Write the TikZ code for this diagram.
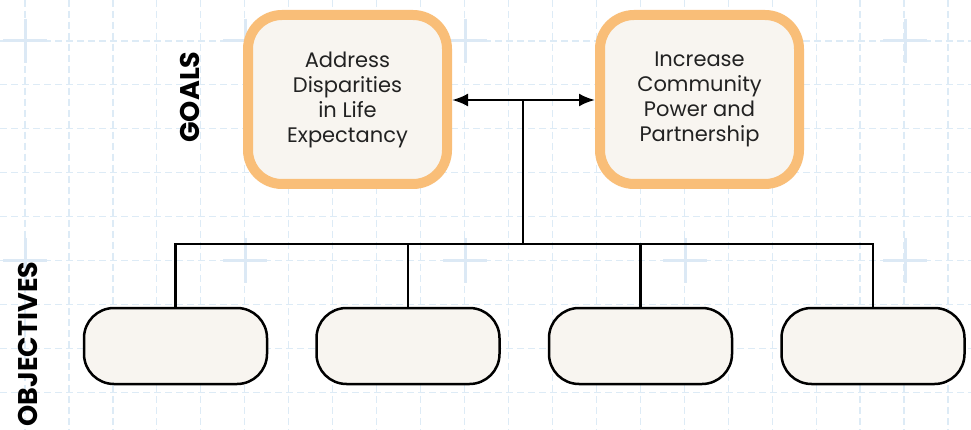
\documentclass[tikz,border=0pt]{standalone}
\usepackage{fontspec}
\setmainfont{Poppins}
\usepackage{xcolor}
\usepackage{tikz}
\usetikzlibrary{positioning, arrows.meta, calc}

\definecolor{gridblue}{HTML}{DDEBF6}
\definecolor{crossblue}{HTML}{DCE9F5}
\definecolor{goalorange}{HTML}{F9BE78}
\definecolor{boxfill}{HTML}{F8F5F0}
\definecolor{textgray}{HTML}{222222}

\tikzset{
  gridline/.style={draw=gridblue, line width=1.2pt, dash pattern=on 7pt off 4pt},
  crossmark/.style={draw=crossblue, line width=3pt},
  goalbox/.style={
    draw=goalorange, fill=boxfill, line width=10pt, rounded corners=34pt,
    minimum width=199pt, minimum height=169pt,
    align=center, text=textgray,
    font=\fontsize{21pt}{25pt}\selectfont
  },
  objbox/.style={
    draw=black, fill=boxfill, line width=2.5pt, rounded corners=30pt,
    minimum width=183pt, minimum height=76pt
  },
  sidelabel/.style={
    rotate=90, font=\fontsize{27pt}{30pt}\selectfont\bfseries, text=black
  },
  link/.style={draw=black, line width=2.5pt},
  twoway/.style={link, {Latex[length=16pt,width=13pt]}-{Latex[length=16pt,width=13pt]}}
}

\begin{document}
\begin{tikzpicture}[x=1pt, y=-1pt]

%% ── Background grid ──────────────────────────────────────────
\fill[white] (0,0) rectangle (971,430);
\useasboundingbox (0,0) rectangle (971,430);
\foreach \k in {0,...,21}
  \draw[gridline] ({25+43.95*\k},0) -- ({25+43.95*\k},430);
\foreach \k in {0,...,8}
  \draw[gridline] (0,{41+43.9*\k}) -- (971,{41+43.9*\k});
\foreach \cx in {25,245,465,685,905}
  \foreach \cy in {41,260.5} {
    \draw[crossmark] (\cx-22,\cy) -- (\cx+22,\cy);
    \draw[crossmark] (\cx,\cy-22) -- (\cx,\cy+22);
  }

%% ── Side labels ──────────────────────────────────────────────
\node[sidelabel] (goals) at (190,97) {GOALS};
\node[sidelabel] (objectives) at (28,344) {OBJECTIVES};

%% ── Goals ────────────────────────────────────────────────────
\node[goalbox] (goal1) at (347.5,99.5) {Address\\Disparities\\in Life\\Expectancy};
\node[goalbox] (goal2) at (699.5,99.5) {Increase\\Community\\Power and\\Partnership};

%% ── Objectives ───────────────────────────────────────────────
\node[objbox] (obj1) at (175.5,346) {};
\node[objbox] (obj2) at (408,346) {};
\node[objbox] (obj3) at (640.5,346) {};
\node[objbox] (obj4) at (873,346) {};

%% ── Connectors ───────────────────────────────────────────────
\coordinate (hub) at (523,100);
\coordinate (bus) at (523,244);
\draw[twoway] (goal1.east |- hub) -- (goal2.west |- hub);
\draw[link] (hub) -- (bus);
\draw[link] (obj1.north) |- (bus) -| (obj4.north);
\draw[link] (obj2.north) -- (obj2.north |- bus);
\draw[link] (obj3.north) -- (obj3.north |- bus);

\end{tikzpicture}
\end{document}
